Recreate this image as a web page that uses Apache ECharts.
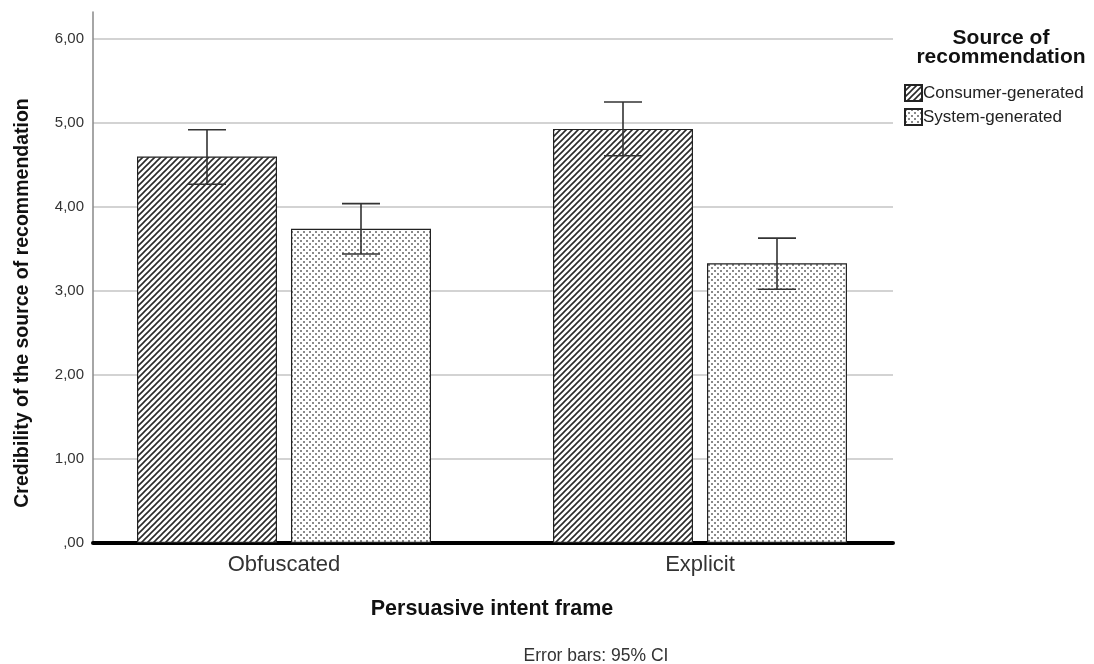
<!DOCTYPE html>
<html>
<head>
<meta charset="utf-8">
<script src="https://cdn.jsdelivr.net/npm/echarts@6/dist/echarts.min.js"></script>
<style>html,body{margin:0;padding:0;background:#fff;}#c{width:1094px;height:664px;}</style>
</head>
<body>
<div id="c"></div>
<script>
const categories = ['Obfuscated', 'Explicit'];
const seriesNames = ['Consumer-generated', 'System-generated'];
const consumerMean = [4.60, 4.93];
const consumerLow = [4.27, 4.61];
const consumerHigh = [4.92, 5.25];
const systemMean = [3.74, 3.33];
const systemLow = [3.44, 3.02];
const systemHigh = [4.04, 3.63];
const yTicks = [0, 1, 2, 3, 4, 5, 6];

function hatchPattern() {
  const c = document.createElement('canvas');
  c.width = 6; c.height = 6;
  const g = c.getContext('2d');
  g.fillStyle = '#fff'; g.fillRect(0, 0, 6, 6);
  g.strokeStyle = '#2a2a2a'; g.lineWidth = 1.6;
  g.beginPath();
  g.moveTo(-1, 7); g.lineTo(7, -1);
  g.moveTo(-4, 4); g.lineTo(4, -4);
  g.moveTo(2, 10); g.lineTo(10, 2);
  g.stroke();
  return c;
}
function dotPattern() {
  const c = document.createElement('canvas');
  c.width = 6; c.height = 6;
  const g = c.getContext('2d');
  g.fillStyle = '#fff'; g.fillRect(0, 0, 6, 6);
  g.fillStyle = '#8a8a8a';
  g.fillRect(0, 0, 2, 2);
  g.fillRect(3, 3, 2, 2);
  return c;
}
const hatch = { image: hatchPattern(), repeat: 'repeat' };
const dots = { image: dotPattern(), repeat: 'repeat' };

const BAR_W = 140, BAR_GAP = 14;
const OFFSET = (BAR_W + BAR_GAP) / 2;
const FONT = 'Liberation Sans, Arial, sans-serif';

function errItem(offset) {
  return function (params, api) {
    const x = api.value(0);
    const lo = api.coord([x, api.value(1)]);
    const hi = api.coord([x, api.value(2)]);
    const px = lo[0] + offset;
    const st = { stroke: '#333', lineWidth: 1.6 };
    const cap = 19;
    return {
      type: 'group',
      children: [
        { type: 'line', shape: { x1: px, y1: lo[1], x2: px, y2: hi[1] }, style: st },
        { type: 'line', shape: { x1: px - cap, y1: hi[1], x2: px + cap, y2: hi[1] }, style: st },
        { type: 'line', shape: { x1: px - cap, y1: lo[1], x2: px + cap, y2: lo[1] }, style: st }
      ]
    };
  };
}

const chart = echarts.init(document.getElementById('c'));
chart.setOption({
  animation: false,
  backgroundColor: '#fff',
  textStyle: { fontFamily: FONT },
  title: [
    { text: 'Source of\nrecommendation', left: 996, top: 24, textAlign: 'center',
      textStyle: { fontFamily: FONT, fontSize: 21, fontWeight: 'bold', color: '#111', lineHeight: 19 } },
    { text: 'Error bars: 95% CI', left: 591, top: 642, textAlign: 'center',
      textStyle: { fontFamily: FONT, fontSize: 17.5, fontWeight: 'normal', color: '#333' } }
  ],
  legend: {
    orient: 'vertical', left: 899, top: 79, itemWidth: 17, itemHeight: 16, itemGap: 6,
    icon: 'rect', data: seriesNames,
    textStyle: { fontFamily: FONT, fontSize: 17, color: '#222', padding: [0, 0, 0, -4] }
  },
  graphic: [
    { type: 'text', x: 23, y: 303, rotation: Math.PI / 2,
      style: { text: 'Credibility of the source of recommendation', fontFamily: FONT, fontSize: 19.5,
               fontWeight: 'bold', fill: '#111', align: 'center', verticalAlign: 'middle' } }
  ],
  grid: [
    { left: 93, right: 201, top: 12, bottom: 121 },
    { left: 93, right: 201, top: 39, bottom: 121 },
    { left: 76, width: 832, top: 39, bottom: 121 }
  ],
  xAxis: [
    { gridIndex: 0, type: 'category', data: categories, show: false },
    { gridIndex: 1, type: 'category', data: categories,
      axisLine: { show: true, lineStyle: { color: '#000', width: 4 } },
      axisTick: { show: false }, axisLabel: { show: false }, splitLine: { show: false } },
    { gridIndex: 2, type: 'category', data: categories,
      axisLine: { show: false }, axisTick: { show: false },
      axisLabel: { fontFamily: FONT, fontSize: 22, color: '#333', margin: 11 },
      name: 'Persuasive intent frame', nameLocation: 'middle', nameGap: 55,
      nameTextStyle: { fontFamily: FONT, fontSize: 21.5, fontWeight: 'bold', color: '#111' } }
  ],
  yAxis: [
    { gridIndex: 0, type: 'value', min: 0, max: 6.32,
      axisLine: { show: true, lineStyle: { color: '#888', width: 1.5 } },
      axisTick: { show: false }, axisLabel: { show: false }, splitLine: { show: false } },
    { gridIndex: 1, type: 'value', min: yTicks[0], max: yTicks[yTicks.length - 1], interval: 1,
      axisLine: { show: false }, axisTick: { show: false },
      axisLabel: { fontFamily: FONT, fontSize: 15, color: '#333', margin: 9,
        formatter: v => (v === 0 ? ',00' : v.toFixed(2).replace('.', ',')) },
      splitLine: { show: true, lineStyle: { color: '#c4c4c4', width: 1.5 } } },
    { gridIndex: 2, type: 'value', min: 0, max: 6, show: false }
  ],
  series: [
    { name: seriesNames[0], type: 'bar', xAxisIndex: 2, yAxisIndex: 2, data: consumerMean,
      barWidth: BAR_W, barGap: '10%',
      itemStyle: { color: hatch, borderColor: '#222', borderWidth: 1.2 } },
    { name: seriesNames[1], type: 'bar', xAxisIndex: 2, yAxisIndex: 2, data: systemMean,
      barWidth: BAR_W, barGap: '10%',
      itemStyle: { color: dots, borderColor: '#222', borderWidth: 1.2 } },
    { type: 'custom', xAxisIndex: 2, yAxisIndex: 2, z: 5, renderItem: errItem(-OFFSET),
      data: categories.map((c, i) => [i, consumerLow[i], consumerHigh[i]]) },
    { type: 'custom', xAxisIndex: 2, yAxisIndex: 2, z: 5, renderItem: errItem(OFFSET),
      data: categories.map((c, i) => [i, systemLow[i], systemHigh[i]]) }
  ]
});
</script>
</body>
</html>
